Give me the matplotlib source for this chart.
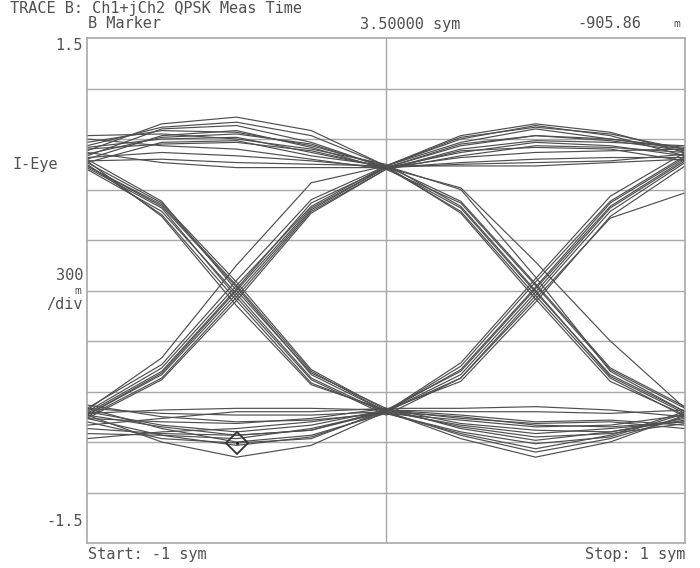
import matplotlib
matplotlib.use("Agg")
import matplotlib.pyplot as plt

# Symbol-time sample positions (sym) for each eye trace
sample_times = [-1.0, -0.75, -0.5, -0.25, 0.0, 0.25, 0.5, 0.75, 1.0]

# I-channel eye traces
trace_01 = [0.83, 0.99, 1.03, 0.95, 0.74, 0.92, 0.99, 0.94, 0.82]
trace_02 = [0.80, 0.96, 0.98, 0.88, 0.73, 0.49, -0.01, -0.50, -0.72]
trace_03 = [0.88, 0.95, 0.94, 0.86, 0.74, 0.90, 0.98, 0.92, 0.80]
trace_04 = [0.78, 0.92, 0.95, 0.85, 0.72, 0.52, 0.03, -0.47, -0.70]
trace_05 = [0.85, 0.90, 0.91, 0.82, 0.73, 0.76, 0.78, 0.79, 0.79]
trace_06 = [0.76, 0.88, 0.89, 0.80, 0.74, 0.46, -0.05, -0.54, -0.74]
trace_07 = [0.90, 0.86, 0.84, 0.78, 0.72, 0.84, 0.89, 0.88, 0.86]
trace_08 = [0.79, 0.82, 0.80, 0.77, 0.73, 0.61, 0.17, -0.30, -0.70]
trace_09 = [0.77, 0.78, 0.76, 0.75, 0.74, 0.88, 0.96, 0.90, 0.84]
trace_10 = [0.82, 0.76, 0.73, 0.73, 0.73, 0.75, 0.76, 0.77, 0.81]
trace_11 = [0.92, 0.93, 0.90, 0.84, 0.75, 0.50, 0.00, -0.51, -0.73]
trace_12 = [-0.74, -0.50, -0.02, 0.48, 0.73, 0.82, 0.88, 0.86, 0.80]
trace_13 = [-0.72, -0.46, 0.03, 0.50, 0.74, 0.60, 0.08, -0.48, -0.72]
trace_14 = [-0.76, -0.53, -0.06, 0.46, 0.72, 0.80, 0.86, 0.85, 0.82]
trace_15 = [-0.73, -0.48, 0.01, 0.52, 0.73, 0.47, -0.03, -0.52, -0.75]
trace_16 = [-0.70, -0.44, 0.06, 0.54, 0.74, 0.74, 0.74, 0.76, 0.78]
trace_17 = [-0.75, -0.52, -0.04, 0.47, 0.72, 0.83, 0.85, 0.84, 0.77]
trace_18 = [-0.71, -0.40, 0.15, 0.64, 0.74, 0.53, 0.04, -0.46, -0.69]
trace_19 = [-0.74, -0.49, 0.00, 0.49, 0.73, 0.86, 0.92, 0.89, 0.83]
trace_20 = [0.74, 0.50, 0.02, -0.50, -0.72, -0.88, -0.99, -0.90, -0.74]
trace_21 = [0.76, 0.52, 0.05, -0.47, -0.71, -0.48, 0.01, 0.50, 0.78]
trace_22 = [0.72, 0.47, -0.02, -0.52, -0.73, -0.85, -0.94, -0.86, -0.72]
trace_23 = [0.75, 0.45, -0.06, -0.55, -0.72, -0.45, 0.05, 0.53, 0.80]
trace_24 = [0.78, 0.53, 0.00, -0.49, -0.70, -0.82, -0.89, -0.84, -0.76]
trace_25 = [0.73, 0.49, -0.04, -0.53, -0.74, -0.52, -0.03, 0.47, 0.76]
trace_26 = [0.77, 0.44, -0.09, -0.56, -0.71, -0.72, -0.72, -0.73, -0.71]
trace_27 = [0.74, 0.51, 0.03, -0.48, -0.72, -0.47, 0.02, 0.52, 0.79]
trace_28 = [-0.74, -0.90, -0.99, -0.92, -0.72, -0.80, -0.85, -0.82, -0.78]
trace_29 = [-0.78, -0.88, -0.906, -0.88, -0.71, -0.54, -0.07, 0.44, 0.74]
trace_30 = [-0.70, -0.82, -0.90, -0.86, -0.73, -0.77, -0.81, -0.80, -0.74]
trace_31 = [-0.85, -0.86, -0.88, -0.82, -0.72, -0.50, -0.01, 0.49, 0.77]
trace_32 = [-0.72, -0.80, -0.84, -0.80, -0.71, -0.74, -0.78, -0.77, -0.80]
trace_33 = [-0.88, -0.84, -0.82, -0.78, -0.72, -0.43, 0.07, 0.56, 0.82]
trace_34 = [-0.76, -0.78, -0.79, -0.76, -0.70, -0.70, -0.69, -0.71, -0.75]
trace_35 = [-0.70, -0.73, -0.74, -0.74, -0.72, -0.52, -0.05, 0.43, 0.58]
trace_36 = [-0.73, -0.71, -0.70, -0.70, -0.71, -0.76, -0.79, -0.78, -0.82]
trace_37 = [-0.80, -0.76, -0.72, -0.72, -0.70, -0.79, -0.83, -0.84, -0.77]
trace_38 = [-0.68, -0.75, -0.78, -0.77, -0.73, -0.84, -0.91, -0.87, -0.73]
trace_39 = [0.86, 0.97, 1.00, 0.92, 0.74, 0.91, 0.97, 0.93, 0.84]
trace_40 = [0.81, 0.91, 0.93, 0.87, 0.73, 0.87, 0.92, 0.90, 0.85]
trace_41 = [-0.76, -0.86, -0.92, -0.87, -0.72, -0.86, -0.96, -0.88, -0.75]
trace_42 = [-0.82, -0.85, -0.86, -0.83, -0.71, -0.81, -0.87, -0.85, -0.79]
trace_43 = [0.84, 0.87, 0.88, 0.83, 0.73, 0.79, 0.82, 0.83, 0.84]
trace_44 = [-0.74, -0.81, -0.86, -0.83, -0.72, -0.75, -0.80, -0.81, -0.78]

traces = [trace_01, trace_02, trace_03, trace_04, trace_05, trace_06, trace_07,
          trace_08, trace_09, trace_10, trace_11, trace_12, trace_13, trace_14,
          trace_15, trace_16, trace_17, trace_18, trace_19, trace_20, trace_21,
          trace_22, trace_23, trace_24, trace_25, trace_26, trace_27, trace_28,
          trace_29, trace_30, trace_31, trace_32, trace_33, trace_34, trace_35,
          trace_36, trace_37, trace_38, trace_39, trace_40, trace_41, trace_42,
          trace_43, trace_44]

# Marker
marker_x = -0.5
marker_y = -0.90586

# Axis settings
y_min, y_max = -1.5, 1.5
y_grid = [-1.2, -0.9, -0.6, -0.3, 0.0, 0.3, 0.6, 0.9, 1.2]
x_min, x_max = -1.0, 1.0

grid_col = "#a8a8a8"
trace_col = "#4f4f4f"
text_col = "#505050"
mono = ["DejaVu Sans Mono"]

fig = plt.figure(figsize=(7.0, 5.68), dpi=100)
ax = fig.add_axes([87 / 700, 25 / 568, 598 / 700, 505 / 568])
ax.set_xlim(x_min, x_max)
ax.set_ylim(y_min, y_max)

for yv in y_grid:
    ax.axhline(yv, color=grid_col, lw=1.0, zorder=1)
ax.axvline(0.0, color=grid_col, lw=1.0, zorder=1)

for tr in traces:
    ax.plot(sample_times, tr, color=trace_col, lw=0.85, zorder=2,
            solid_joinstyle="miter")

ax.plot([marker_x], [marker_y], marker="D", ms=11, mfc="none", mec="#333333",
        mew=1.3, zorder=4)
ax.plot([marker_x], [marker_y], marker=".", ms=2.5, color="#222222", zorder=5)

ax.set_xticks([])
ax.set_yticks([])
for sp in ax.spines.values():
    sp.set_color(grid_col)
    sp.set_linewidth(1.2)

fs = 11
fig.text(10 / 700, 1 - 9 / 568, "TRACE B: Ch1+jCh2 QPSK Meas Time", family=mono,
         fontsize=fs, color=text_col, va="center", ha="left")
fig.text(88 / 700, 1 - 24 / 568, "B Marker", family=mono, fontsize=fs,
         color=text_col, va="center", ha="left")
fig.text(460 / 700, 1 - 24 / 568, "3.50000 sym", family=mono, fontsize=fs,
         color=text_col, va="center", ha="right")
fig.text(641 / 700, 1 - 24 / 568, "-905.86", family=mono, fontsize=fs,
         color=text_col, va="center", ha="right")
fig.text(673 / 700, 1 - 24 / 568, "m", family=mono, fontsize=8,
         color=text_col, va="center", ha="left")

fig.text(83 / 700, 1 - 45 / 568, "1.5", family=mono, fontsize=fs,
         color=text_col, va="center", ha="right")
fig.text(12 / 700, 1 - 165 / 568, "I-Eye", family=mono, fontsize=fs,
         color=text_col, va="center", ha="left")
fig.text(83 / 700, 1 - 276 / 568, "300", family=mono, fontsize=fs,
         color=text_col, va="center", ha="right")
fig.text(78 / 700, 1 - 291 / 568, "m", family=mono, fontsize=8,
         color=text_col, va="center", ha="center")
fig.text(83 / 700, 1 - 305 / 568, "/div", family=mono, fontsize=fs,
         color=text_col, va="center", ha="right")
fig.text(83 / 700, 1 - 521 / 568, "-1.5", family=mono, fontsize=fs,
         color=text_col, va="center", ha="right")
fig.text(88 / 700, 1 - 554 / 568, "Start: -1 sym", family=mono, fontsize=fs,
         color=text_col, va="center", ha="left")
fig.text(685 / 700, 1 - 554 / 568, "Stop: 1 sym", family=mono, fontsize=fs,
         color=text_col, va="center", ha="right")

fig.savefig("out.png", dpi=100, facecolor="white")
